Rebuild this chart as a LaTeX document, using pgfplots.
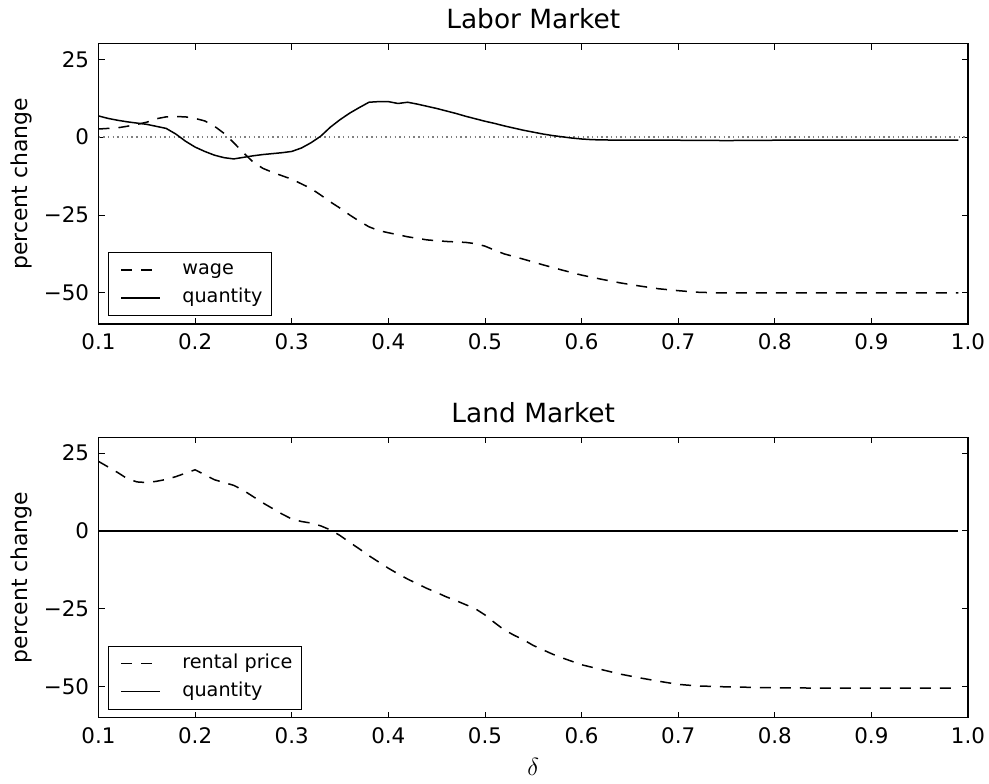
\documentclass[border=0pt]{standalone}
\usepackage{fontspec}
\setmainfont{DejaVu Sans}
\usepackage{pgfplots}
\pgfplotsset{compat=1.18}
\pgfplotstableread{
x y
0.100 6.8
0.110 6.0
0.120 5.4
0.130 4.9
0.150 4.1
0.170 2.8
0.180 1.0
0.190 -1.3
0.200 -3.2
0.210 -4.6
0.220 -5.8
0.230 -6.6
0.240 -7.0
0.250 -6.5
0.260 -6.0
0.270 -5.6
0.280 -5.3
0.290 -5.0
0.300 -4.6
0.310 -3.5
0.320 -1.8
0.330 0.3
0.340 3.2
0.350 5.6
0.360 7.7
0.370 9.5
0.380 11.2
0.390 11.4
0.400 11.4
0.410 10.8
0.420 11.2
0.430 10.6
0.440 9.9
0.450 9.2
0.460 8.4
0.470 7.6
0.480 6.7
0.490 5.9
0.500 5.1
0.510 4.4
0.520 3.6
0.530 2.9
0.540 2.2
0.550 1.6
0.560 1.0
0.570 0.5
0.580 0.1
0.590 -0.3
0.600 -0.6
0.610 -0.8
0.620 -0.9
0.650 -1.0
0.700 -1.0
0.750 -1.1
0.800 -1.0
0.990 -1.0
}\laborqty
\pgfplotstableread{
x y
0.100 2.6
0.110 2.8
0.120 3.0
0.130 3.5
0.140 4.1
0.150 4.8
0.160 5.9
0.170 6.5
0.180 6.6
0.190 6.5
0.200 6.0
0.210 5.2
0.220 3.5
0.230 1.2
0.240 -1.8
0.250 -5.0
0.260 -8.0
0.270 -10.0
0.280 -11.3
0.290 -12.4
0.300 -13.5
0.310 -15.0
0.320 -16.5
0.330 -18.6
0.340 -20.8
0.350 -22.8
0.360 -25.0
0.370 -27.0
0.380 -28.8
0.390 -30.0
0.400 -30.7
0.420 -32.0
0.440 -33.0
0.460 -33.5
0.480 -33.8
0.490 -34.2
0.500 -35.0
0.510 -36.3
0.520 -37.5
0.540 -39.2
0.560 -41.0
0.580 -42.7
0.600 -44.3
0.620 -45.6
0.640 -46.8
0.660 -47.8
0.680 -48.7
0.700 -49.3
0.720 -49.8
0.740 -50.0
0.990 -50.0
}\wage
\pgfplotstableread{
x y
0.100 22.3
0.110 20.5
0.120 18.7
0.130 16.7
0.140 15.7
0.150 15.5
0.160 15.9
0.170 16.5
0.180 17.4
0.190 18.5
0.200 19.6
0.210 18.0
0.220 16.4
0.230 15.5
0.240 14.6
0.250 13.0
0.260 11.0
0.270 9.0
0.280 7.2
0.290 5.4
0.300 3.8
0.310 3.0
0.320 2.5
0.330 1.6
0.340 0.3
0.350 -1.5
0.360 -3.7
0.370 -5.8
0.380 -8.0
0.390 -10.0
0.400 -12.0
0.410 -13.8
0.420 -15.5
0.430 -17.0
0.440 -18.5
0.450 -19.8
0.460 -21.2
0.470 -22.4
0.480 -23.7
0.490 -25.0
0.500 -27.0
0.510 -29.5
0.520 -31.8
0.530 -33.5
0.540 -35.0
0.550 -36.8
0.560 -38.2
0.570 -39.6
0.580 -40.8
0.590 -41.9
0.600 -43.0
0.620 -44.5
0.640 -46.0
0.660 -47.2
0.680 -48.3
0.700 -49.3
0.720 -49.8
0.750 -50.1
0.800 -50.4
0.850 -50.5
0.990 -50.5
}\rental
\pgfplotstableread{
x y
0.100 0
0.990 0
}\landqty
\begin{document}
\begin{tikzpicture}[x=1bp,y=1bp]
\useasboundingbox (0,0) rectangle (989,784);
\pgfplotsset{
  common/.style={
    scale only axis, width=869.5bp, height=280.3bp, anchor=south west,
    xmin=0.1, xmax=1.0, ymin=-60, ymax=30,
    xtick={0.1,0.2,0.3,0.4,0.5,0.6,0.7,0.8,0.9,1.0},
    xticklabels={0.1,0.2,0.3,0.4,0.5,0.6,0.7,0.8,0.9,1.0},
    ytick={-50,-25,0,25},
    yticklabels={−50,−25,0,25},
    minor tick num=0,
    tick align=inside, major tick length=6bp,
    tick style={black, line width=0.8bp},
    axis line style={line width=1.2bp},
    ticklabel style={font=\fontsize{21.5}{21.5}\selectfont},
    xticklabel style={anchor=base, yshift=-25.6bp, inner sep=0pt},
    yticklabel style={anchor=east, inner sep=0pt, xshift=-9.2bp},
    ylabel={percent change},
    ylabel style={at={(axis description cs:-0.0813,0.5)}, anchor=base, font=\fontsize{22}{22}\selectfont},
    title style={at={(axis description cs:0.5,1)}, anchor=base, yshift=9.4bp, font=\fontsize{26.5}{26.5}\selectfont},
    legend style={at={(axis description cs:0.0106,0.0285)}, anchor=south west,
      draw=black, line width=1.2bp, fill=white, inner xsep=9bp, inner ysep=6bp,
      row sep=5bp, column sep=0bp, font=\fontsize{19.3}{19.3}\selectfont,
      nodes={text height=14bp, text depth=5bp, inner ysep=2bp, inner xsep=0bp}},
    legend cell align=left,
    legend image code/.code={\path[draw=none,fill=none] (0bp,0bp) -- (65bp,0bp); \draw[##1, line width=1.5bp] (4bp,0bp) -- (43bp,0bp);},
  },
  dashedline/.style={black, line width=1.5bp, dash pattern=on 11bp off 9bp},
  solidline/.style={black, line width=1.5bp},
}
\begin{axis}[common, at={(98.5bp,460bp)}, title={Labor Market}]
\addplot[forget plot, color=black!50, line width=1.3bp, dash pattern=on 1.4bp off 3.3bp] coordinates {(0.1,0) (1.0,0)};
\addplot[dashedline] table[x=x,y=y] {\wage};
\addlegendentry{wage}
\addplot[solidline] table[x=x,y=y] {\laborqty};
\addlegendentry{quantity}
\end{axis}
\begin{axis}[common, at={(98.5bp,66.3bp)}, title={Land Market},
  xlabel={$\delta$}, xlabel style={at={(axis description cs:0.5,-0.208)}, anchor=base, font=\fontsize{25}{25}\selectfont}]
\addplot[dashedline] table[x=x,y=y] {\rental};
\addlegendentry{rental price}
\addplot[solidline] table[x=x,y=y] {\landqty};
\addlegendentry{quantity}
\end{axis}
\end{tikzpicture}
\end{document}
